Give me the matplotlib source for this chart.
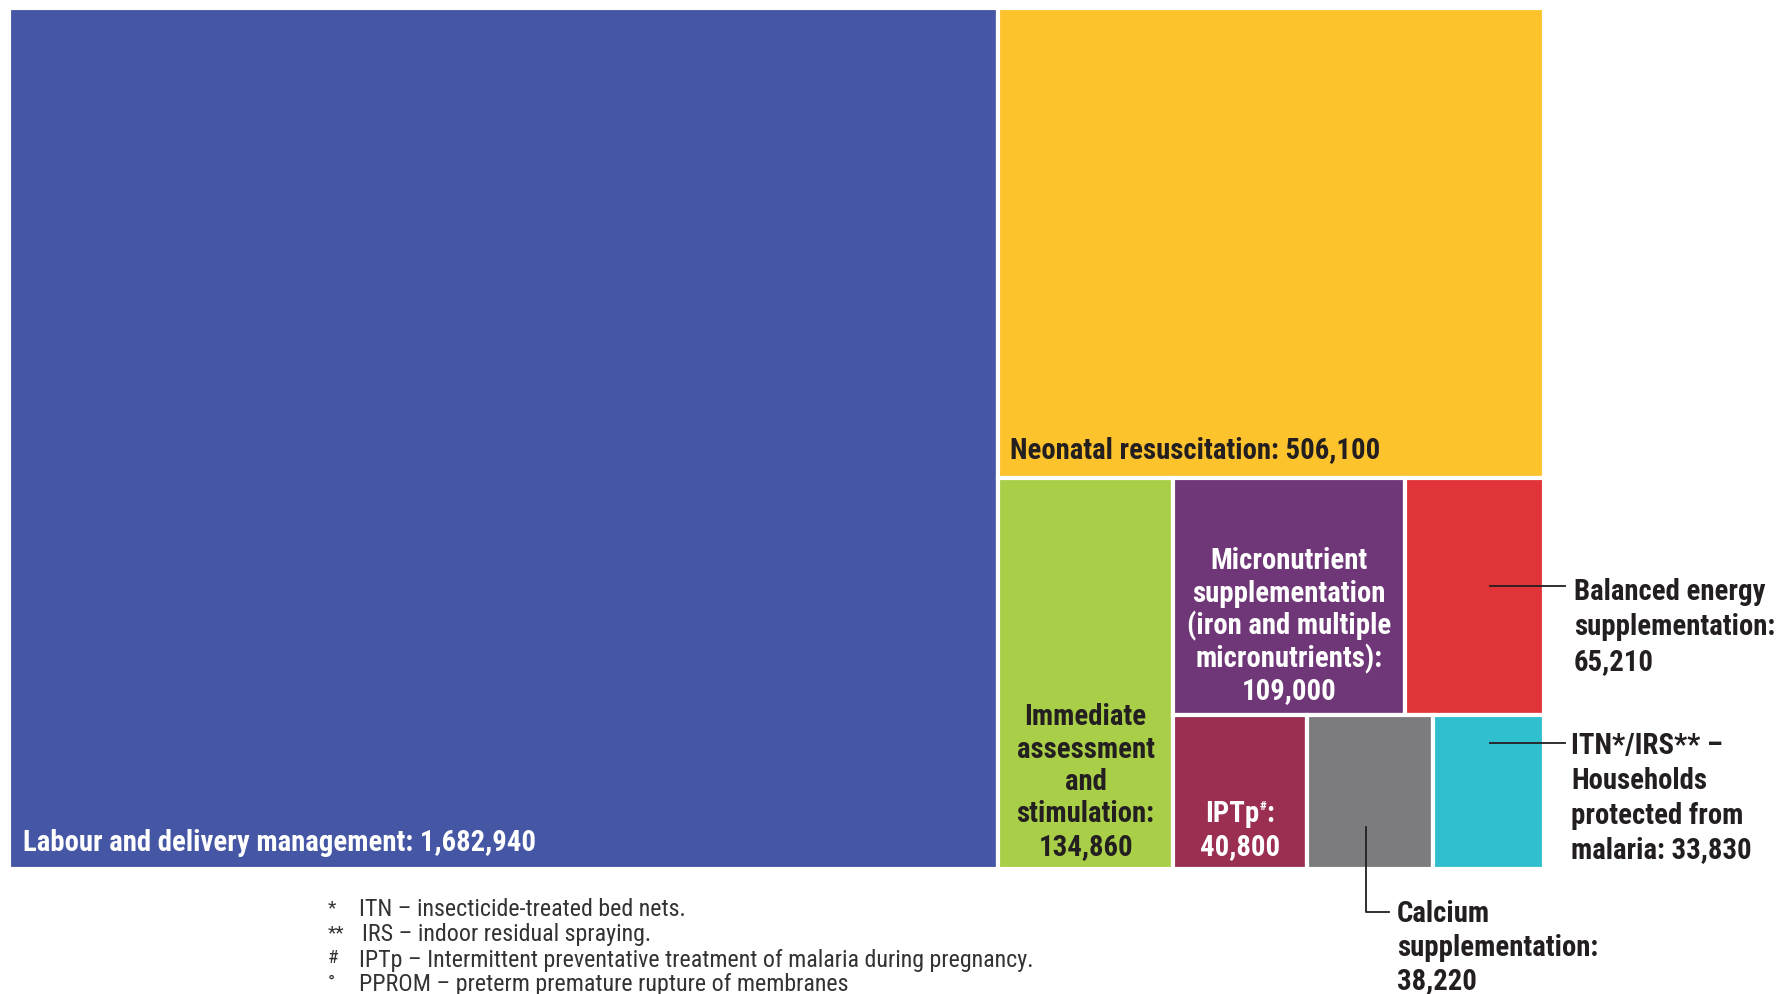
import os
import matplotlib
matplotlib.use('Agg')
import matplotlib.pyplot as plt
from matplotlib.patches import Rectangle
from matplotlib import font_manager
from matplotlib.font_manager import FontProperties

# ---- data (lives saved by intervention)
names = ['Labour and delivery management', 'Neonatal resuscitation',
         'Immediate assessment and stimulation',
         'Micronutrient supplementation', 'Balanced energy supplementation',
         'IPTp', 'Calcium supplementation', 'ITN/IRS']
values = [1682940, 506100, 134860, 109000, 65210, 40800, 38220, 33830]
colors = ['#4456A4', '#FCC32D', '#A9CE48', '#703778', '#E03439',
          '#9A2F52', '#7C7C7E', '#30BFCF']

footnote_marks = ['*', '**', '#', '°']
footnote_texts = ['ITN – insecticide-treated bed nets.',
                  'IRS – indoor residual spraying.',
                  'IPTp – Intermittent preventative treatment of malaria during pregnancy.',
                  'PPROM – preterm premature rupture of membranes']


# ---- fonts: look for a condensed face
def find_font(kind):
    files = [f.fname for f in font_manager.fontManager.ttflist]
    prefs = ['robotocondensed', 'liberationsansnarrow',
             'notosans', 'dejavusans', 'opensans']
    found = []
    for fn in files:
        b = os.path.basename(fn).lower().replace('-', '').replace('_', '')
        if 'italic' in b or 'oblique' in b:
            continue
        if not ('condensed' in b or 'narrow' in b):
            continue
        if any(k in b for k in ['semi', 'extra', 'ultra', 'light', 'black',
                                'medium', 'thin']):
            continue
        if kind == 'bold' and 'bold' not in b:
            continue
        if kind == 'regular' and 'bold' in b:
            continue
        rank = len(prefs)
        for i, p in enumerate(prefs):
            if b.startswith(p):
                rank = i
                break
        found.append((rank, fn))
    found.sort()
    return found[0][1] if found else None


bold_file = find_font('bold')
reg_file = find_font('regular')
if bold_file:
    fp_bold = FontProperties(fname=bold_file)
else:
    fp_bold = FontProperties(family='DejaVu Sans', weight='bold')
if reg_file:
    fp_reg = FontProperties(fname=reg_file)
else:
    fp_reg = FontProperties(family='Liberation Sans')

dark = '#231F20'


def fmt(v):
    return '{:,}'.format(v)


def split_h(box, weights):
    x0, y0, x1, y1 = box
    tot = float(sum(weights))
    out = []
    x = x0
    for w in weights:
        nx = x + (x1 - x0) * w / tot
        out.append((x, y0, nx, y1))
        x = nx
    return out


def split_v(box, weights):
    x0, y0, x1, y1 = box
    tot = float(sum(weights))
    out = []
    y = y0
    for w in weights:
        ny = y + (y1 - y0) * w / tot
        out.append((x0, y, x1, ny))
        y = ny
    return out


fig = plt.figure(figsize=(17.82, 9.95), dpi=100)
ax = fig.add_axes([0, 0, 1, 1])
ax.set_xlim(0, 1782)
ax.set_ylim(995, 0)
ax.axis('off')
rend = fig.canvas.get_renderer()


def fit_size(fp, s, target):
    t = ax.text(0, 0, s, fontproperties=fp, fontsize=20)
    w = t.get_window_extent(rend).width
    t.remove()
    return 20 * target / w


fs = fit_size(fp_bold, 'Labour and delivery management: 1,682,940', 511)
fs_note = fit_size(fp_reg, footnote_texts[2], 672)
bold = dict(fontproperties=fp_bold, fontsize=fs)

# ---- treemap layout following the original grouping
lab, neo, imm, mic, bal, ipt, cal, itn = values
box = (9, 9, 1544, 870)
b_lab, rest = split_h(box, [lab, sum(values[1:])])
b_neo, lower = split_v(rest, [neo, sum(values[2:])])
b_imm, small = split_h(lower, [imm, sum(values[3:])])
row1, row2 = split_v(small, [mic + bal, ipt + cal + itn])
b_mic, b_bal = split_h(row1, [mic, bal])
b_ipt, b_cal, b_itn = split_h(row2, [ipt, cal, itn])
rects = [b_lab, b_neo, b_imm, b_mic, b_bal, b_ipt, b_cal, b_itn]

for r, c in zip(rects, colors):
    x0, y0, x1, y1 = r
    ax.add_patch(Rectangle((x0, y0), x1 - x0, y1 - y0, facecolor=c,
                           edgecolor='white', linewidth=3))

# labels inside boxes
ax.text(b_lab[0] + 14, b_lab[3] - 27, names[0] + ': ' + fmt(lab),
        color='white', va='center', ha='left', **bold)
ax.text(b_neo[0] + 12, b_neo[3] - 28, names[1] + ': ' + fmt(neo),
        color=dark, va='center', ha='left', **bold)

lh = 32.5
cx = (b_imm[0] + b_imm[2]) / 2
lines = ['Immediate', 'assessment', 'and', 'stimulation:', fmt(imm)]
for i, s in enumerate(lines):
    ax.text(cx, b_imm[3] - 23 - lh * (len(lines) - 1 - i), s, color=dark,
            ha='center', va='center', **bold)

cx = (b_mic[0] + b_mic[2]) / 2
lines = ['Micronutrient', 'supplementation', '(iron and multiple',
         'micronutrients):', fmt(mic)]
for i, s in enumerate(lines):
    ax.text(cx, b_mic[3] - 25 - lh * (len(lines) - 1 - i), s, color='white',
            ha='center', va='center', **bold)

# IPTp# label with superscript mark
cx = (b_ipt[0] + b_ipt[2]) / 2
ty = b_ipt[3] - 23 - lh
parts = [ax.text(0, ty, 'IPTp', color='white', ha='left', va='center', **bold),
         ax.text(0, ty - 8, '#', color='white', ha='left', va='center',
                 fontproperties=fp_bold, fontsize=fs * 0.45),
         ax.text(0, ty, ':', color='white', ha='left', va='center', **bold)]
widths = [p.get_window_extent(rend).width for p in parts]
x = cx - sum(widths) / 2
for p, w in zip(parts, widths):
    p.set_x(x)
    x += w
ax.text(cx, b_ipt[3] - 23, fmt(ipt), color='white', ha='center',
        va='center', **bold)

# callouts outside the boxes
lx0 = b_bal[0] + 85
ly = (b_bal[1] + b_bal[3]) / 2 - 10
ax.plot([lx0, 1565], [ly, ly], color=dark, lw=1.3)
for i, s in enumerate(['Balanced energy', 'supplementation:', fmt(bal)]):
    ax.text(1574, ly + 5 + 34.8 * i, s, color=dark, ha='left', va='center',
            **bold)

ly = b_itn[1] + 28
ax.plot([lx0, 1565], [ly, ly], color=dark, lw=1.3)
for i, s in enumerate(['ITN*/IRS** –', 'Households', 'protected from',
                       'malaria: ' + fmt(itn)]):
    ax.text(1571, ly + 2 + 34.8 * i, s, color=dark, ha='left', va='center',
            **bold)

vx = (b_cal[0] + b_cal[2]) / 2 - 4
ax.plot([vx, vx, 1389], [828, 913, 913], color=dark, lw=1.3)
for i, s in enumerate(['Calcium', 'supplementation:', fmt(cal)]):
    ax.text(1397, 914 + 33.5 * i, s, color=dark, ha='left', va='center',
            **bold)

# footnotes
for i, (m, s) in enumerate(zip(footnote_marks, footnote_texts)):
    y = 910 + 25.0 * i
    ax.text(328, y - 2, m, color='#333333', fontproperties=fp_reg,
            fontsize=fs_note * 0.8, ha='left', va='center')
    ax.text(359 + (3 if i == 1 else 0), y, s, color='#333333',
            fontproperties=fp_reg, fontsize=fs_note, ha='left', va='center')

fig.savefig('out.png', dpi=100, facecolor='white')
